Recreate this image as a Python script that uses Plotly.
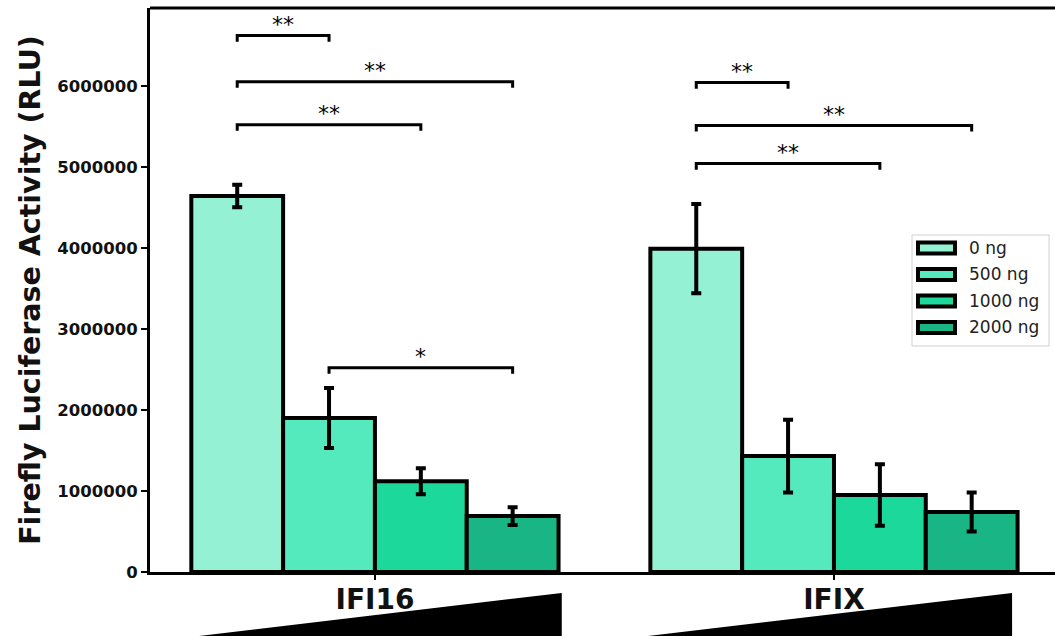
import plotly.graph_objects as go

# ---- data ----
groups = ["IFI16", "IFIX"]
doses = ["0 ng", "500 ng", "1000 ng", "2000 ng"]
means = {
    "0 ng":    [4640000, 3990000],
    "500 ng":  [1900000, 1430000],
    "1000 ng": [1120000, 950000],
    "2000 ng": [690000, 740000],
}
errors = {
    "0 ng":    [140000, 550000],
    "500 ng":  [370000, 450000],
    "1000 ng": [160000, 380000],
    "2000 ng": [110000, 240000],
}
colors = ["#95f1d3", "#55eabd", "#1dd89b", "#1ab584"]

# significance comparisons: (group index, bar a, bar b, bracket height, label)
comparisons = [
    (0, 0, 1, 6620000, "**"),
    (0, 0, 3, 6050000, "**"),
    (0, 0, 2, 5520000, "**"),
    (0, 1, 3, 2520000, "*"),
    (1, 0, 1, 6040000, "**"),
    (1, 0, 3, 5510000, "**"),
    (1, 0, 2, 5040000, "**"),
]

# dose-ramp triangles below each group (relative to category position)
ramp_left = [-0.383, -0.405]
ramp_right = [0.407, 0.388]

n = len(doses)
bar_w = 0.8 / n
offsets = [(-0.4 + bar_w / 2 + i * bar_w) for i in range(n)]
xpos = list(range(len(groups)))

fig = go.Figure()
for i, d in enumerate(doses):
    fig.add_trace(go.Bar(
        x=xpos, y=means[d], name=d, showlegend=False,
        marker=dict(color=colors[i], line=dict(color="black", width=4)),
        error_y=dict(type="data", array=errors[d], color="black",
                     thickness=4, width=5),
    ))

shapes = []
annotations = []
tick_h = 75000
for g, a, b, h, lab in comparisons:
    x1 = xpos[g] + offsets[a]
    x2 = xpos[g] + offsets[b]
    shapes.append(dict(
        type="path", xref="x", yref="y",
        path=f"M {x1},{h - tick_h} L {x1},{h} L {x2},{h} L {x2},{h - tick_h}",
        line=dict(color="black", width=3),
    ))
    annotations.append(dict(
        x=(x1 + x2) / 2, y=h, xref="x", yref="y", text=lab, showarrow=False,
        yanchor="bottom", font=dict(family="DejaVu Sans", size=22, color="black"),
        yshift=-3,
    ))

for g in range(len(groups)):
    xl = xpos[g] + ramp_left[g]
    xr = xpos[g] + ramp_right[g]
    shapes.append(dict(
        type="path", xref="x", yref="paper",
        path=f"M {xl},-0.1135 L {xr},-0.0372 L {xr},-0.1135 Z",
        fillcolor="black", line=dict(color="black", width=0),
    ))

# top spine
shapes.append(dict(type="line", xref="paper", yref="paper", x0=0, x1=1, y0=1, y1=1,
                   line=dict(color="black", width=3)))

# legend (drawn as a key box in plot-area paper coordinates)
plot_w, plot_h = 905.0, 564.0
def px(xp):
    return (xp - 150) / plot_w
def py(yp):
    return (572 - yp) / plot_h

shapes.append(dict(type="rect", xref="paper", yref="paper",
                   x0=px(912), x1=px(1049), y0=py(346), y1=py(235),
                   fillcolor="white", line=dict(color="#d0d0d0", width=1)))
row_y = [248, 274.5, 301, 327.5]
for i, d in enumerate(doses):
    yc = row_y[i]
    shapes.append(dict(type="rect", xref="paper", yref="paper",
                       x0=px(918), x1=px(955), y0=py(yc + 5.5), y1=py(yc - 5.5),
                       fillcolor=colors[i], line=dict(color="black", width=4)))
    annotations.append(dict(x=px(967), y=py(yc), xref="paper", yref="paper",
                            text=d, showarrow=False, xanchor="left", yanchor="middle",
                            font=dict(family="DejaVu Sans", size=17, color="#222222")))

fig.update_layout(
    width=1055, height=638,
    margin=dict(l=150, r=0, t=8, b=66),
    paper_bgcolor="white", plot_bgcolor="white",
    barmode="group", bargap=0.2, bargroupgap=0,
    shapes=shapes, annotations=annotations,
    showlegend=False,
    xaxis=dict(
        range=[-0.49, 1.4815],
        tickmode="array", tickvals=xpos, ticktext=groups,
        tickfont=dict(family="DejaVu Sans", size=28, weight="bold", color="#111111"),
        ticks="outside", ticklen=5, tickwidth=1.5, tickcolor="black",
        ticklabelstandoff=-4,
        showline=True, linecolor="black", linewidth=2.5,
        showgrid=False, zeroline=False,
    ),
    yaxis=dict(
        range=[0, 6960000],
        tickmode="array",
        tickvals=[0, 1000000, 2000000, 3000000, 4000000, 5000000, 6000000],
        ticktext=["0", "1000000", "2000000", "3000000", "4000000", "5000000", "6000000"],
        tickfont=dict(family="DejaVu Sans", size=16.5, weight="bold", color="#111111"),
        ticks="outside", ticklen=6, tickwidth=1.5, tickcolor="black",
        showline=True, linecolor="black", linewidth=3,
        showgrid=False, zeroline=False,
        title=dict(text="Firefly Luciferase Activity (RLU)", standoff=9,
                   font=dict(family="DejaVu Sans", size=28.5, weight="bold", color="#111111")),
    ),
)

fig.write_html("out.html", config={"displayModeBar": False},
               post_script="document.body.style.margin='0';")
